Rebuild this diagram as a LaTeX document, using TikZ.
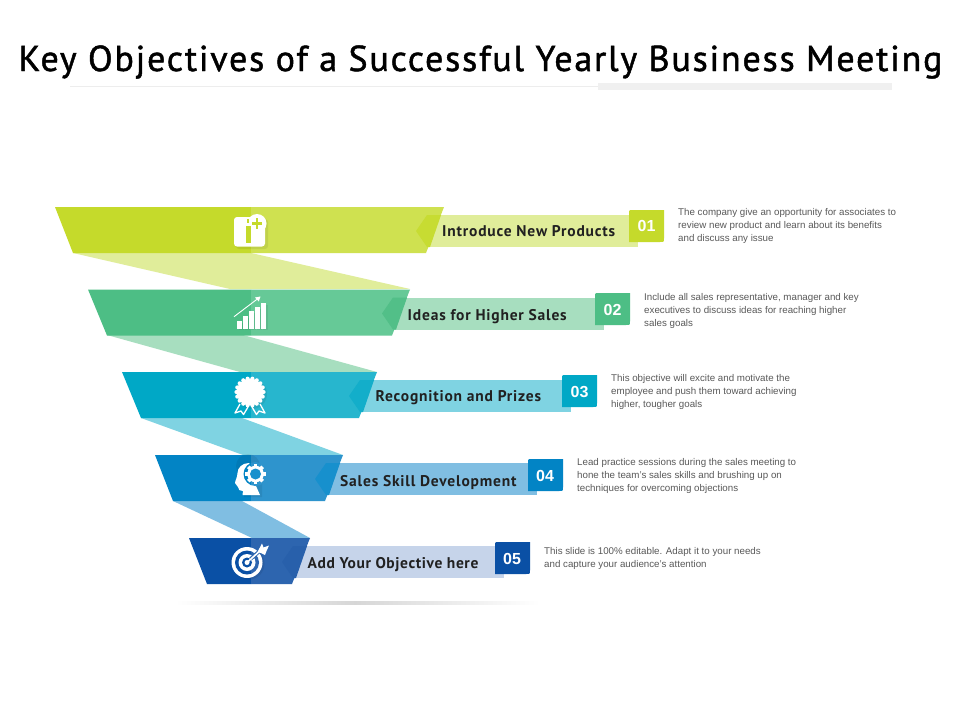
\documentclass[tikz,border=0pt]{standalone}
\usepackage{fontspec}
\setmainfont{Liberation Sans}
\newfontfamily\titlefont[LetterSpace=5,FakeBold=1.3]{PT Sans}
\newfontfamily\labelfont[LetterSpace=5.2]{PT Sans Bold}
\newfontfamily\labelfontb[LetterSpace=3.9]{PT Sans Bold}
\usetikzlibrary{calc,shadings}
\definecolor{aD}{HTML}{C5DA2B}\definecolor{aL}{HTML}{CFE150}\definecolor{aR}{HTML}{E0ED9A}\definecolor{aN}{HTML}{C7DC32}
\definecolor{bD}{HTML}{4DBE85}\definecolor{bL}{HTML}{66C997}\definecolor{bR}{HTML}{A7DEBF}\definecolor{bN}{HTML}{52BF88}
\definecolor{cD}{HTML}{00A8C6}\definecolor{cL}{HTML}{27B6CE}\definecolor{cR}{HTML}{7FD3E2}\definecolor{cN}{HTML}{13AECA}
\definecolor{dD}{HTML}{0284C5}\definecolor{dL}{HTML}{2E94CD}\definecolor{dR}{HTML}{80BEE2}\definecolor{dN}{HTML}{1790CD}
\definecolor{eD}{HTML}{0A50A5}\definecolor{eL}{HTML}{2D65AF}\definecolor{eR}{HTML}{C6D4EA}\definecolor{eN}{HTML}{2860AB}
\tikzset{
  lbl/.style={anchor=west,inner sep=0pt,text=black!87,text height=12pt,text depth=4pt,font=\labelfont\fontsize{15.5}{18}\selectfont},
  num/.style={inner sep=0pt,text=white,font=\bfseries\fontsize{16}{18}\selectfont},
  desc/.style={anchor=west,inner sep=0pt,align=left,text=black!65,font=\fontsize{9.75}{13}\selectfont},
  shad/.style={black,opacity=.07}
}
% #1 TL #2 TR #3 BL #4 BR #5 top y #6 colour prefix #7 bar right
\newcommand{\tier}[7]{
  \fill[#6R] (#4-2,#5+8) rectangle (#7,#5+40);
  \fill[#6D] (#1,#5) -- (251,#5) -- (251,#5+46) -- (#3,#5+46) -- cycle;
  \fill[#6L] (251,#5) -- (#2,#5) -- (#4,#5+46) -- (251,#5+46) -- cycle;
  \fill[#6N] (#4-10,#5+24) -- (#4+1,#5+8) -- (#4+15,#5+8) -- (#4+4,#5+40) -- (#4+1,#5+40) -- cycle;
}
% #1 left x, #2 top y, #3 colour
\newcommand{\numbox}[3]{
  \fill[#3] (#1,#2+4) .. controls (#1,#2) .. (#1+4,#2) -- (#1+35,#2)
    -- (#1+35,#2+28) .. controls (#1+35,#2+32) .. (#1+31,#2+32) -- (#1,#2+32) -- cycle;
}
\begin{document}
\begin{tikzpicture}[x=1pt,y=-1pt]
\useasboundingbox (0,0) rectangle (960,720);
\fill[white] (0,0) rectangle (960,720);
% title
\node[inner sep=0pt,text=black,anchor=base] (title) at (480.5,71) {\titlefont\fontsize{36}{40}\selectfont Key Objectives of a Successful Yearly Business Meeting};
\draw[black!7,line width=.8pt] (70,86.3) -- (600,86.3);
\fill[black!6] (598,83) rectangle (892,90);
% ribbons
\fill[aR] (73,253) -- (251,253) -- (410,289) -- (230,289) -- cycle;
\fill[bR] (107,335) -- (243,335) -- (377,372) -- (240,372) -- cycle;
\fill[cR] (141,418) -- (242,418) -- (343,455) -- (243,455) -- cycle;
\fill[dR] (173,501) -- (242,501) -- (310,538) -- (252,538) -- cycle;
% tiers
\tier{55}{444}{73}{426}{207}{a}{638}
\tier{88}{410}{107}{392}{289.5}{b}{604}
\tier{122}{377}{141}{359}{372}{c}{571}
\tier{155}{343}{173}{325}{455}{d}{537}
\tier{189}{310}{207}{292}{538}{e}{504}
% floor shadow
\shade[left color=white,right color=black!16] (175,601.5) rectangle (355,604.5);
\shade[left color=black!16,right color=white] (355,601.5) rectangle (540,604.5);
% number boxes
\numbox{629}{210}{aD}\numbox{595}{293}{bD}\numbox{562}{375}{cD}\numbox{528}{459}{dD}\numbox{495}{542}{eD}
\node[num] (n1) at (646.5,226) {01};
\node[num] (n2) at (612.5,309.5) {02};
\node[num] (n3) at (579.5,391.5) {03};
\node[num] (n4) at (545,475.5) {04};
\node[num] (n5) at (512,558.5) {05};
% labels
\node[lbl] (l1) at (442,232.7) {Introduce New Products};
\node[lbl] (l2) at (407.5,316) {Ideas for Higher Sales};
\node[lbl] (l3) at (375.5,397.7) {Recognition and Prizes};
\node[lbl] (l4) at (340,482) {Sales Skill Development};
\node[lbl,font=\labelfontb\fontsize{15.5}{18}\selectfont] (l5) at (307.5,564.5) {Add Your Objective here};
% descriptions
\node[desc] (d1) at (678,226) {The company give an opportunity for associates to\\review new product and learn about its benefits\\and discuss any issue};
\node[desc] (d2) at (644,311) {Include all sales representative, manager and key\\executives to discuss ideas for reaching higher\\sales goals};
\node[desc] (d3) at (611,392) {This objective will excite and motivate the\\employee and push them toward achieving\\higher, tougher goals};
\node[desc] (d4) at (577,476) {Lead practice sessions during the sales meeting to\\hone the team's sales skills and brushing up on\\techniques for overcoming objections};
\node[desc] (d5) at (544,558) {This slide is 100\% editable. Adapt it to your needs\\and capture your audience's attention};
% icon 1
\fill[shad,rounded corners=3] (236,219) rectangle (268,249);
\fill[white,rounded corners=3] (234,217) rectangle (265,246.5);
\fill[white] (257,223.5) circle (9.5);
\fill[aD] (246,225.5) rectangle (251,243);
\fill[aD] (246.5,219) rectangle (249,223);
\fill[aD] (255.8,218) rectangle (258.2,228.5);
\fill[aD] (252,222.2) rectangle (262,224.6);
% icon 2
\foreach \a/\b in {237.3/320.5,243.4/316,249.4/310.5,255.4/306.7,261.4/303}{
  \fill[shad] (\a+2,\b+2) rectangle (\a+6.2,330);
  \fill[white] (\a,\b) rectangle (\a+4.2,328.5);
}
\draw[white,line width=.9pt] (234,316.7) -- (258,298.5);
\fill[white] (260.5,296.5) -- (255,297.5) -- (258.8,301.5) -- cycle;
% icon 3
\fill[shad] (252,394) circle (15);
\fill[white] (250,392) circle (13.5);
\foreach \t in {0,20,...,340}{\fill[white] ($(250,392)+(\t:13.6)$) circle (2);}
\draw[white,line width=1.3pt,line join=round] (240,404) -- (235,413) -- (241,411) -- (243.5,414.5) -- (248,407);
\draw[white,line width=1.3pt,line join=round] (260,404) -- (265,413) -- (259,411) -- (256.5,414.5) -- (252,407);
% icon 4
\fill[shad] (248,466) circle (12) (244,482) rectangle (262,497);
\fill[white] (249,463) .. controls (242,463) and (237.5,468) .. (237.5,473) .. controls (237.5,477) and (235,481) .. (235,483) .. controls (235,485) and (238,485) .. (238,487) .. controls (238,490) and (240,491) .. (243,491) -- (242.5,495) -- (260,495) -- (256,486) -- (256,470) -- cycle;
\begin{scope}
  \clip (240,455) rectangle (251,495);
  \fill[dD] (255.5,474) circle (12);
\end{scope}
\begin{scope}
  \clip (251,455) rectangle (270,495);
  \fill[dL] (255.5,474) circle (12);
\end{scope}
\fill[white] (255.5,474) circle (8.3);
\foreach \t in {0,45,...,315}{\fill[white,rotate around={\t:(255.5,474)}] (253.7,463.8) rectangle (257.3,467);}
\fill[dN] (255.5,474) circle (5.5);
% icon 5
\fill[shad] (249,564) circle (15.5);
\fill[white] (247,562.5) circle (15.5);
\begin{scope}
  \clip (225,540) rectangle (251,585);
  \fill[eD] (247,562.5) circle (12);
\end{scope}
\begin{scope}
  \clip (251,540) rectangle (270,585);
  \fill[eL] (247,562.5) circle (12);
\end{scope}
\fill[white] (247,562.5) circle (8.5);
\fill[eD] (247,562.5) circle (5);
\fill[white] (247,562.5) circle (2.5);
\draw[eL,line width=3.6pt] (250.5,559) -- (262,549);
\draw[white,line width=1.6pt] (247,562.5) -- (262,549);
\fill[white] (257.5,552) -- (262,543.5) -- (263.5,547.5) -- (269,545.5) -- (266.5,551) -- (265,555) -- (261,553) -- cycle;
\end{tikzpicture}
\end{document}
